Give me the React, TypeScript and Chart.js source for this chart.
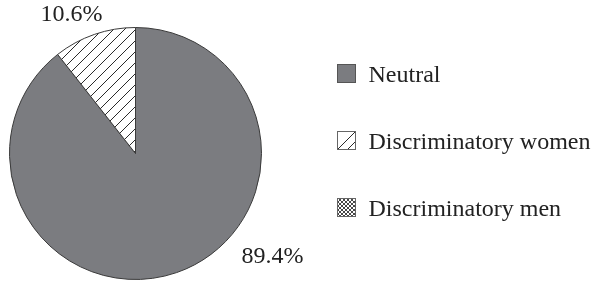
import React, { useEffect, useRef } from "react";
import { Chart, registerables } from "chart.js";

Chart.register(...registerables);

const categories = ["Neutral", "Discriminatory women", "Discriminatory men"];
const shares = [89.4, 10.6, 0];
const labelTexts = ["89.4%", "10.6%", ""];

const FONT = "'Liberation Serif', 'Times New Roman', serif";
const INK = "#222222";
const EDGE = "#3a3a3a";
const GRAY = "#7b7c80";

function makeHatch(): CanvasPattern | string {
  const T = 11;
  const c = document.createElement("canvas");
  c.width = T;
  c.height = T;
  const g = c.getContext("2d");
  if (!g) return "#fff";
  g.fillStyle = "#ffffff";
  g.fillRect(0, 0, T, T);
  g.strokeStyle = "#2a2a2a";
  g.lineWidth = 1;
  g.beginPath();
  g.moveTo(-1, T + 1);
  g.lineTo(T + 1, -1);
  g.moveTo(-2, 2);
  g.lineTo(2, -2);
  g.moveTo(T - 2, T + 2);
  g.lineTo(T + 2, T - 2);
  g.stroke();
  return g.createPattern(c, "repeat") || "#fff";
}

function makeCross(): CanvasPattern | string {
  const T = 4;
  const c = document.createElement("canvas");
  c.width = T;
  c.height = T;
  const g = c.getContext("2d");
  if (!g) return "#fff";
  g.fillStyle = "#ffffff";
  g.fillRect(0, 0, T, T);
  g.strokeStyle = "#333";
  g.lineWidth = 0.9;
  g.beginPath();
  g.moveTo(0, 0);
  g.lineTo(T, T);
  g.moveTo(T, 0);
  g.lineTo(0, T);
  g.stroke();
  return g.createPattern(c, "repeat") || "#fff";
}

export default function App() {
  const ref = useRef<HTMLCanvasElement>(null);

  useEffect(() => {
    document.body.style.margin = "0";
    const canvas = ref.current;
    if (!canvas) return;
    const hatch = makeHatch();
    const cross = makeCross();
    const fills = [GRAY, hatch, cross];

    // label placement relative to pie center, in units of outer radius
    const labelOffsets = [
      [1.087, 0.82],
      [-0.508, -1.1],
      [0, 0],
    ];

    const overlay = {
      id: "overlay",
      afterDraw(chart: any) {
        const ctx = chart.ctx as CanvasRenderingContext2D;
        const meta = chart.getDatasetMeta(0);
        const arc0 = meta.data[0] as any;
        const cx = arc0.x;
        const cy = arc0.y;
        const R = arc0.outerRadius;
        ctx.save();
        ctx.font = `24px ${FONT}`;
        ctx.fillStyle = INK;
        ctx.textAlign = "center";
        ctx.textBaseline = "middle";
        labelTexts.forEach((t, i) => {
          if (!t) return;
          const [fx, fy] = labelOffsets[i];
          ctx.fillText(t, cx + fx * R, cy + fy * R);
        });

        // legend
        const lx = 337.5;
        const ly0 = 64.5;
        const step = 67;
        const box = 18;
        categories.forEach((name, i) => {
          const y = ly0 + i * step;
          ctx.fillStyle = i === 1 ? "#ffffff" : (fills[i] as any);
          ctx.fillRect(lx, y, box, box);
          if (i === 1) {
            ctx.save();
            ctx.beginPath();
            ctx.rect(lx, y, box, box);
            ctx.clip();
            ctx.strokeStyle = "#2a2a2a";
            ctx.lineWidth = 1;
            ctx.beginPath();
            ctx.moveTo(lx, y + box);
            ctx.lineTo(lx + box, y);
            ctx.moveTo(lx + 10, y + box);
            ctx.lineTo(lx + box, y + 10);
            ctx.stroke();
            ctx.restore();
          }
          ctx.strokeStyle = i === 0 ? "#555" : "#666";
          ctx.lineWidth = 1;
          ctx.strokeRect(lx, y, box, box);
          ctx.fillStyle = INK;
          ctx.textAlign = "left";
          ctx.textBaseline = "alphabetic";
          ctx.font = `24px ${FONT}`;
          ctx.fillText(name, 368.5, y + 17.5);
        });
        ctx.restore();
      },
    };

    const chart = new Chart(canvas, {
      type: "pie",
      data: {
        labels: categories,
        datasets: [
          {
            data: shares,
            backgroundColor: fills as any,
            borderColor: EDGE,
            borderWidth: shares.map((v) => (v > 0 ? 1 : 0)),
            borderAlign: "center",
          },
        ],
      },
      options: {
        animation: false,
        responsive: true,
        maintainAspectRatio: false,
        layout: { padding: { left: 9, top: 27, right: 329, bottom: 2 } },
        plugins: {
          legend: { display: false },
          tooltip: { enabled: false },
        },
      },
      plugins: [overlay],
    });
    return () => chart.destroy();
  }, []);

  return (
    <div style={{ position: "absolute", left: 0, top: 0, width: 591, height: 282 }}>
      <canvas ref={ref} />
    </div>
  );
}
